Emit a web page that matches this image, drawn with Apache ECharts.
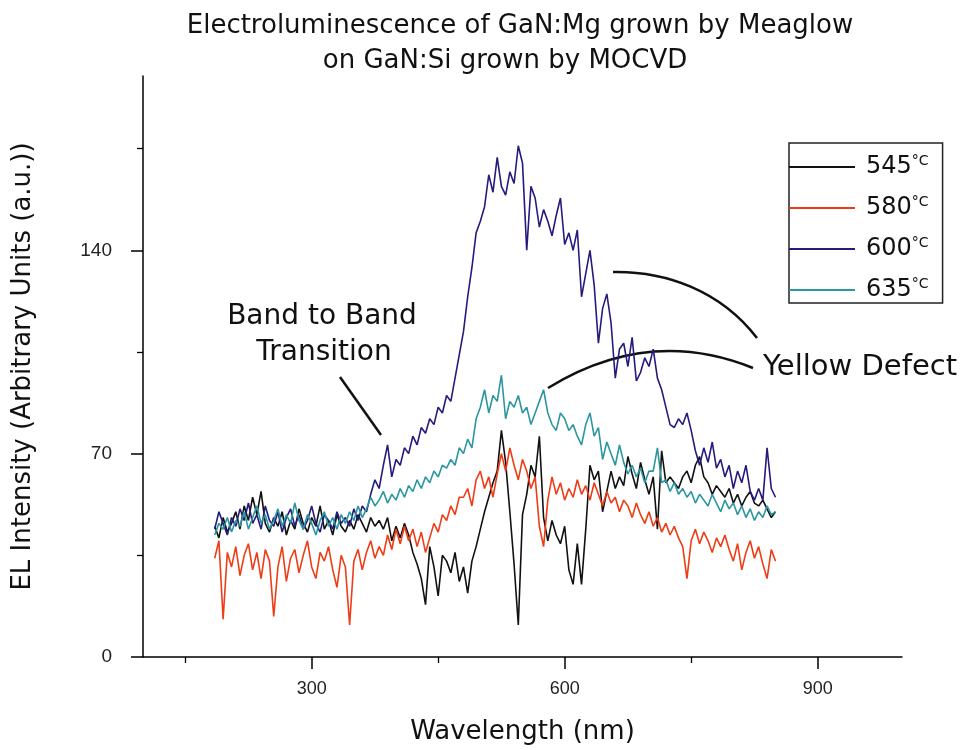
<!DOCTYPE html>
<html>
<head>
<meta charset="utf-8">
<title>Electroluminescence of GaN:Mg</title>
<script src="https://cdn.jsdelivr.net/npm/echarts@6.0.0/dist/echarts.min.js"></script>
<style>
  html, body { margin: 0; padding: 0; background: #fff; }
  #chart { width: 964px; height: 750px; }
</style>
</head>
<body>
<div id="chart"></div>
<script>
// wavelength (nm) of every sample
var wavelengths = [
  185,190,195,200,205,210,215,220,225,230,
  235,240,245,250,255,260,265,270,275,280,
  285,290,295,300,305,310,315,320,325,330,
  335,340,345,350,355,360,365,370,375,380,
  385,390,395,400,405,410,415,420,425,430,
  435,440,445,450,455,460,465,470,475,480,
  485,490,495,500,505,510,515,520,525,530,
  535,540,545,550,555,560,565,570,575,580,
  585,590,595,600,605,610,615,620,625,630,
  635,640,645,650,655,660,665,670,675,680,
  685,690,695,700,705,710,715,720,725,730,
  735,740,745,750,755,760,765,770,775,780,
  785,790,795,800,805,810,815,820,825,830,
  835,840,845,850
];

// EL intensity (a.u.)
var el545 = [
  45,41,48,43,46,50,44,52,47,55,
  49,57,46,43,48,45,50,42,47,44,
  51,46,43,48,45,52,44,47,42,49,
  45,43,47,44,49,46,43,48,45,47,
  44,48,40,45,41,46,42,36,32,27,
  18,38,31,21,35,33,29,36,26,31,
  22,33,38,44,50,55,60,64,78,67,
  50,32,11,49,56,66,62,76,48,40,
  47,42,39,45,30,25,39,25,44,66,
  61,64,50,57,64,58,62,59,69,63,
  58,67,61,56,62,44,71,60,62,60,
  58,62,64,60,66,69,62,60,56,59,
  57,55,58,53,56,52,55,57,53,52,
  54,51,48,50
];
var el580 = [
  34,40,13,36,31,38,28,35,39,30,
  36,27,37,33,14,31,38,26,34,37,
  29,35,40,31,27,36,33,38,30,24,
  35,31,11,33,37,30,36,40,34,38,
  35,42,37,44,39,45,40,44,38,43,
  36,41,46,43,49,47,52,49,55,55,
  58,52,61,64,58,62,55,63,70,64,
  72,66,61,68,64,58,62,45,38,54,
  62,56,60,54,58,55,61,56,59,54,
  60,56,52,57,53,55,50,54,52,48,
  53,49,46,50,45,48,43,46,42,45,
  41,38,27,40,44,39,43,40,36,41,
  38,42,37,33,39,30,36,40,34,38,
  32,27,37,33
];
var el600 = [
  44,50,46,42,48,45,51,47,53,46,
  49,44,52,47,45,50,43,48,51,45,
  49,44,47,52,46,43,49,47,44,50,
  46,48,45,51,47,52,50,56,61,58,
  66,73,62,68,66,72,70,76,73,79,
  77,82,80,86,84,90,88,96,104,112,
  124,134,146,150,155,166,160,172,162,159,
  167,163,176,170,140,162,158,148,154,150,
  145,152,158,142,146,140,147,124,132,140,
  128,108,120,125,115,96,106,108,100,110,
  95,98,103,100,106,96,92,86,80,79,
  82,80,84,78,71,66,72,67,74,65,
  68,62,66,58,64,60,66,57,54,58,
  54,72,58,55
];
var el635 = [
  42,46,44,48,43,47,45,50,44,48,
  52,46,49,44,47,51,45,49,46,53,
  47,44,49,46,42,47,50,45,48,44,
  49,46,50,47,52,48,51,55,52,54,
  57,53,56,54,58,55,59,57,61,58,
  62,60,64,62,66,65,68,66,72,70,
  75,72,82,86,92,84,90,88,97,82,
  88,86,90,84,86,80,84,88,92,84,
  80,78,84,82,78,80,76,73,80,84,
  76,79,68,74,70,66,73,67,63,66,
  62,65,60,64,64,72,60,61,57,60,
  56,58,55,57,53,56,54,52,56,53,
  50,54,51,53,49,52,48,51,47,50,
  48,52,49,50
];

var seriesNames = ['545°C', '580°C', '600°C', '635°C'];
var seriesColors = ['#111111', '#ee3d16', '#251b7e', '#2a97a0'];

// axis ticks
var xMajorTicks = [300, 600, 900];
var xMinorTicks = [150, 450, 750];
var yMajorTicks = [0, 70, 140];
var yMinorTicks = [35, 105, 175];

var bigFont = '"DejaVu Sans", "Liberation Sans", sans-serif';
var tickFont = '"Liberation Sans", Arial, sans-serif';

function pairs(values) {
  return wavelengths.map(function (w, i) { return [w, values[i]]; });
}

var allValues = [el545, el580, el600, el635];
var series = allValues.map(function (vals, k) {
  return {
    name: seriesNames[k],
    type: 'line',
    data: pairs(vals),
    symbol: 'none',
    xAxisIndex: 0,
    yAxisIndex: 0,
    lineStyle: { color: seriesColors[k], width: 1.6 },
    itemStyle: { color: seriesColors[k] }
  };
});

var chart = echarts.init(document.getElementById('chart'));

var titleStyle = { fontFamily: bigFont, fontSize: 26, fontWeight: 'normal', color: '#111' };

var option = {
  animation: false,
  backgroundColor: '#fff',
  title: [
    {
      text: 'Electroluminescence of GaN:Mg grown by Meaglow',
      left: 520, top: 13, padding: 0, textAlign: 'center',
      textStyle: titleStyle
    },
    {
      text: 'on GaN:Si grown by MOCVD',
      left: 505, top: 48, padding: 0, textAlign: 'center',
      textStyle: titleStyle
    }
  ],
  grid: { left: 143, right: 62, top: 76, bottom: 93, containLabel: false },
  legend: {
    orient: 'vertical',
    left: 789,
    top: 143,
    padding: [11, 14, 1, 0],
    itemGap: 16,
    itemWidth: 66,
    itemHeight: 2,
    icon: 'rect',
    borderColor: '#222',
    borderWidth: 1.5,
    data: seriesNames,
    formatter: function (name) {
      return '{n|' + name.replace('°C', '') + '}{s|°C}';
    },
    textStyle: {
      rich: {
        n: { fontFamily: bigFont, fontSize: 24, color: '#111', lineHeight: 26, padding: [0, 0, 0, 6] },
        s: { fontFamily: bigFont, fontSize: 14, color: '#111', lineHeight: 12, verticalAlign: 'top' }
      }
    }
  },
  xAxis: [
    {
      type: 'value', min: 100, max: 1000, position: 'bottom',
      name: 'Wavelength (nm)', nameLocation: 'middle', nameGap: 62,
      nameTextStyle: { fontFamily: bigFont, fontSize: 26, color: '#111' },
      axisLine: { show: true, lineStyle: { color: '#000', width: 1.5 } },
      axisTick: { show: true, customValues: xMajorTicks, length: 12, lineStyle: { color: '#000', width: 1.5 } },
      axisLabel: { customValues: xMajorTicks, margin: 23, fontFamily: tickFont, fontSize: 18, color: '#222' },
      splitLine: { show: false }
    },
    {
      // minor ticks only
      type: 'value', min: 100, max: 1000, position: 'bottom',
      axisLine: { show: false },
      axisTick: { show: true, customValues: xMinorTicks, length: 6, lineStyle: { color: '#000', width: 1.3 } },
      axisLabel: { show: false },
      splitLine: { show: false }
    }
  ],
  yAxis: [
    {
      type: 'value', min: 0, max: 200, position: 'left',
      name: 'EL Intensity (Arbitrary Units (a.u.))', nameLocation: 'middle', nameRotate: 90, nameGap: 107,
      nameTextStyle: { fontFamily: bigFont, fontSize: 26, color: '#111' },
      axisLine: { show: true, lineStyle: { color: '#000', width: 1.5 } },
      axisTick: { show: true, customValues: yMajorTicks, length: 12, lineStyle: { color: '#000', width: 1.5 } },
      axisLabel: { customValues: yMajorTicks, margin: 31, fontFamily: tickFont, fontSize: 19, color: '#222' },
      splitLine: { show: false }
    },
    {
      type: 'value', min: 0, max: 200, position: 'left',
      axisLine: { show: false },
      axisTick: { show: true, customValues: yMinorTicks, length: 6, lineStyle: { color: '#000', width: 1.3 } },
      axisLabel: { show: false },
      splitLine: { show: false }
    }
  ],
  series: series,
  // annotations
  graphic: [
    {
      type: 'text', x: 322, y: 317,
      style: { text: 'Band to Band', font: '28px ' + bigFont, fill: '#111', align: 'center', verticalAlign: 'middle', textAlign: 'center', textVerticalAlign: 'middle' }
    },
    {
      type: 'text', x: 324, y: 353,
      style: { text: 'Transition', font: '28px ' + bigFont, fill: '#111', align: 'center', verticalAlign: 'middle', textAlign: 'center', textVerticalAlign: 'middle' }
    },
    {
      type: 'line',
      shape: { x1: 340, y1: 377, x2: 381, y2: 435 },
      style: { stroke: '#111', lineWidth: 2.5 }
    },
    {
      type: 'text', x: 763, y: 367,
      style: { text: 'Yellow Defect', font: '29px ' + bigFont, fill: '#111', align: 'left', verticalAlign: 'middle', textAlign: 'left', textVerticalAlign: 'middle' }
    },
    {
      type: 'bezierCurve',
      shape: { x1: 613, y1: 272, cpx1: 665, cpy1: 271, cpx2: 720, cpy2: 290, x2: 757, y2: 338 },
      style: { stroke: '#111', lineWidth: 2.5, fill: null }
    },
    {
      type: 'bezierCurve',
      shape: { x1: 548, y1: 388, cpx1: 649, cpy1: 326, x2: 753, y2: 368 },
      style: { stroke: '#111', lineWidth: 2.5, fill: null }
    }
  ]
};

chart.setOption(option);
</script>
</body>
</html>
